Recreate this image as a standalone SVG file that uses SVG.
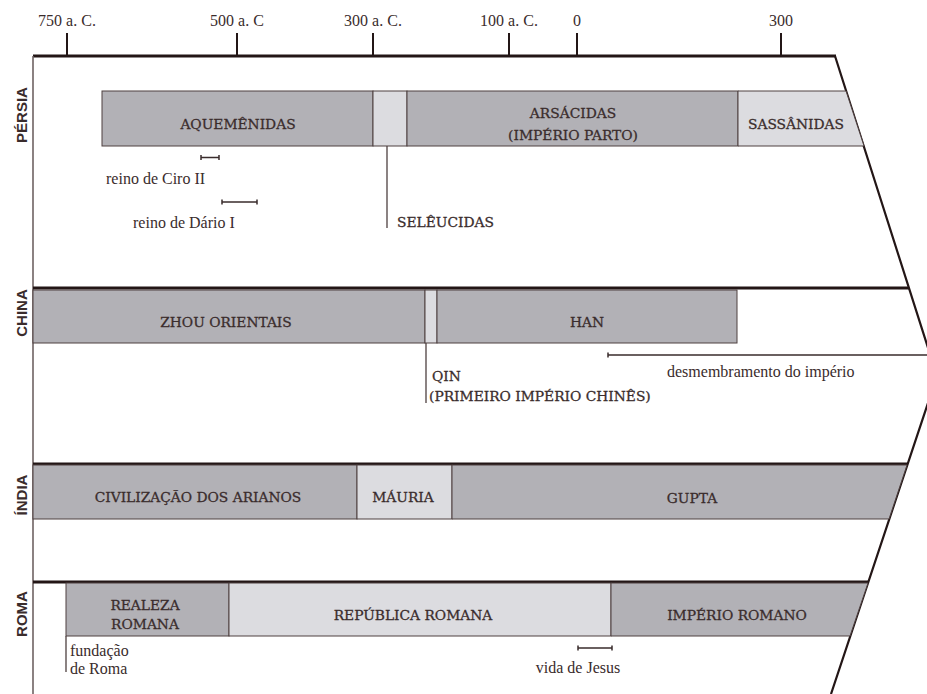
<svg xmlns="http://www.w3.org/2000/svg" width="927" height="694" viewBox="0 0 927 694">
<style>
.bg{fill:#ffffff}
.dark{fill:#b2b1b6;stroke:#4e4040;stroke-width:1}
.light{fill:#dcdce0;stroke:#4e4040;stroke-width:1}
.bt{font-family:"DejaVu Serif",serif;font-size:13.8px;fill:#3a2c2c;stroke:#3a2c2c;stroke-width:0.3;text-anchor:middle}
.bl{font-family:"DejaVu Serif",serif;font-size:13.8px;fill:#3a2c2c;stroke:#3a2c2c;stroke-width:0.3}
.note{font-family:"Liberation Serif",serif;font-size:16px;fill:#3a2c2c}
.ax{font-family:"Liberation Serif",serif;font-size:16px;fill:#3a2c2c;text-anchor:middle}
.reg{font-family:"Liberation Sans",sans-serif;font-size:15px;font-weight:bold;fill:#3a2c2c;text-anchor:middle}
.thick{stroke:#231616;stroke-width:3;fill:none}
.edge{stroke:#231616;stroke-width:2.2;fill:none}
.lead{stroke:#4e4040;stroke-width:1.3;fill:none}
.bar{stroke:#3a2c2c;stroke-width:1.5;fill:none}
</style>
<rect class="bg" x="0" y="0" width="927" height="694"/>

<g id="axis">
  <line class="thick" x1="33" y1="56" x2="836" y2="56"/>
  <g stroke="#231616" stroke-width="2">
    <line x1="67" y1="33" x2="67" y2="56"/>
    <line x1="237" y1="33" x2="237" y2="56"/>
    <line x1="373" y1="33" x2="373" y2="56"/>
    <line x1="509" y1="33" x2="509" y2="56"/>
    <line x1="577" y1="33" x2="577" y2="56"/>
    <line x1="781" y1="33" x2="781" y2="56"/>
  </g>
  <text class="ax" x="67" y="26">750 a. C.</text>
  <text class="ax" x="237" y="26">500 a. C</text>
  <text class="ax" x="373" y="26">300 a. C.</text>
  <text class="ax" x="509" y="26">100 a. C.</text>
  <text class="ax" x="577" y="26">0</text>
  <text class="ax" x="781" y="26">300</text>
</g>

<g id="frame">
  <line x1="33" y1="56" x2="33" y2="694" stroke="#6e6262" stroke-width="1.6"/>
  <polyline class="edge" points="835,56 937,376 831,694"/>
  <line class="thick" x1="33" y1="288" x2="909" y2="288"/>
  <line class="thick" x1="33" y1="464" x2="908" y2="464"/>
  <line class="thick" x1="33" y1="582" x2="868" y2="582"/>
</g>

<g id="regions">
  <text class="reg" transform="translate(27,115) rotate(-90)">PÉRSIA</text>
  <text class="reg" transform="translate(27,313) rotate(-90)">CHINA</text>
  <text class="reg" transform="translate(27,495) rotate(-90)">ÍNDIA</text>
  <text class="reg" transform="translate(27,614) rotate(-90)">ROMA</text>
</g>

<!-- Persia -->
<g id="aquemenidas">
  <rect class="dark" x="102" y="91" width="271" height="55"/>
  <text class="bt" x="238" y="129">AQUEMÊNIDAS</text>
</g>
<g id="seleucidas">
  <rect class="light" x="373" y="91" width="34" height="55"/>
  <text class="bl" x="397" y="227">SELÊUCIDAS</text>
</g>
<g id="arsacidas">
  <rect class="dark" x="407" y="91" width="331" height="55"/>
  <text class="bt" x="573" y="118">ARSÁCIDAS</text>
  <text class="bt" x="573" y="139.5">(IMPÉRIO PARTO)</text>
</g>
<g id="sassanidas">
  <polygon class="light" points="738,91 846,91 864,146 738,146"/>
  <text class="bt" x="796" y="129">SASSÂNIDAS</text>
</g>
<g id="ciro">
  <path class="bar" d="M201,157.5 H219 M201,155 V160 M219,155 V160"/>
  <text class="note" x="106" y="184">reino de Ciro II</text>
</g>
<g id="dario">
  <path class="bar" d="M222,202 H257 M222,199.5 V204.5 M257,199.5 V204.5"/>
  <text class="note" x="133" y="228">reino de Dário I</text>
</g>

<!-- China -->
<g id="zhou">
  <rect class="dark" x="33" y="290" width="392" height="53"/>
  <text class="bt" x="226" y="327">ZHOU ORIENTAIS</text>
</g>
<g id="qin">
  <rect class="light" x="425" y="290" width="12" height="53"/>
  <text class="bl" x="432" y="381">QIN</text>
  <text class="bl" x="429" y="401">(PRIMEIRO IMPÉRIO CHINÊS)</text>
</g>
<g id="han">
  <rect class="dark" x="437" y="290" width="300" height="53"/>
  <text class="bt" x="587" y="327">HAN</text>
</g>
<g id="desmembramento">
  <path class="bar" d="M608,355 H927 M608,352.5 V357.5" stroke-width="1.2"/>
  <text class="note" x="667" y="377">desmembramento do império</text>
</g>

<!-- India -->
<g id="arianos">
  <rect class="dark" x="33" y="465" width="324" height="54"/>
  <text class="bt" x="198" y="502">CIVILIZAÇÃO DOS ARIANOS</text>
</g>
<g id="mauria">
  <rect class="light" x="357" y="465" width="95" height="54"/>
  <text class="bt" x="403" y="502">MÁURIA</text>
</g>
<g id="gupta">
  <polygon class="dark" points="452,465 907,465 889,519 452,519"/>
  <text class="bt" x="692" y="502.5">GUPTA</text>
</g>

<!-- Roma -->
<g id="realeza">
  <rect class="dark" x="66" y="583" width="163" height="53"/>
  <text class="bt" x="145" y="610">REALEZA</text>
  <text class="bt" x="145" y="629">ROMANA</text>
</g>
<g id="republica">
  <rect class="light" x="229" y="583" width="382" height="53"/>
  <text class="bt" x="413" y="620">REPÚBLICA ROMANA</text>
</g>
<g id="imperio-romano">
  <polygon class="dark" points="611,583 868,583 850,636 611,636"/>
  <text class="bt" x="737" y="620">IMPÉRIO ROMANO</text>
</g>
<g id="fundacao">
  <text class="note" x="70" y="656">fundação</text>
  <text class="note" x="70" y="674">de Roma</text>
</g>
<g id="jesus">
  <path class="bar" d="M578,648 H612 M578,645.5 V650.5 M612,645.5 V650.5"/>
  <text class="note" x="578" y="673" text-anchor="middle">vida de Jesus</text>
</g>

<g id="connectors">
  <line class="lead" x1="387" y1="146" x2="387" y2="228"/>
  <line class="lead" x1="426" y1="343" x2="426" y2="403"/>
  <line class="lead" x1="66" y1="636" x2="66" y2="672"/>
</g>
</svg>
